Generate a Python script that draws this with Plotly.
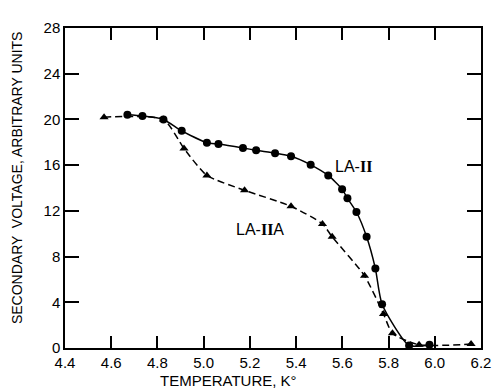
import plotly.graph_objects as go

# LA-II (circles, solid)
t_la2 = [4.67, 4.735, 4.826, 4.905, 5.014, 5.064, 5.17, 5.227, 5.309, 5.378, 5.463, 5.539, 5.599, 5.622, 5.661, 5.705, 5.743, 5.772, 5.889, 5.977]
v_la2 = [20.4, 20.3, 20.0, 19.0, 17.96, 17.84, 17.5, 17.3, 17.05, 16.77, 16.03, 15.1, 13.9, 13.1, 11.9, 9.73, 6.95, 3.83, 0.22, 0.28]

# LA-IIA (triangles, dashed)
t_la2a = [4.569, 4.826, 4.915, 5.014, 5.177, 5.378, 5.514, 5.556, 5.696, 5.778, 5.817, 5.932, 6.157]
v_la2a = [20.2, 20.0, 17.45, 15.1, 13.8, 12.4, 10.86, 9.73, 6.32, 2.98, 1.28, 0.28, 0.34]

x_ticks = [4.4, 4.6, 4.8, 5.0, 5.2, 5.4, 5.6, 5.8, 6.0, 6.2]
y_ticks = [0, 4, 8, 12, 16, 20, 24, 28]

font = "Liberation Sans, Arial, sans-serif"
roman = "<b><span style='font-family:Liberation Serif'>II</span></b>"

fig = go.Figure()
fig.add_trace(go.Scatter(x=t_la2a, y=v_la2a, mode="lines+markers",
                         line=dict(color="black", width=1.5, dash="7px,4px", shape="spline", smoothing=0.6),
                         marker=dict(symbol="triangle-up", size=8, color="black", angleref="up"),
                         showlegend=False))
fig.add_trace(go.Scatter(x=t_la2, y=v_la2, mode="lines+markers",
                         line=dict(color="black", width=1.5, shape="spline", smoothing=0.6),
                         marker=dict(symbol="circle", size=8, color="black"),
                         showlegend=False))

fig.add_annotation(x=5.65, y=15.9, text="LA-" + roman, showarrow=False, xanchor="center",
                   font=dict(family=font, size=16, color="black"))
fig.add_annotation(x=5.245, y=10.35, text="LA-" + roman + "A", showarrow=False, xanchor="center",
                   font=dict(family=font, size=16, color="black"))

fig.add_annotation(xref="paper", yref="paper", x=0.394, y=-0.103, text="TEMPERATURE, K°",
                   showarrow=False, xanchor="center", yanchor="middle",
                   font=dict(family=font, size=15, color="black"))
fig.add_annotation(xref="paper", yref="paper", x=-0.117, y=0.532,
                   text="SECONDARY  VOLTAGE, ARBITRARY UNITS", textangle=-90,
                   showarrow=False, xanchor="center", yanchor="middle",
                   font=dict(family=font, size=14, color="black"))

fig.update_layout(
    width=494, height=384,
    margin=dict(l=57, r=11, t=11, b=44),
    paper_bgcolor="white", plot_bgcolor="white",
    font=dict(family=font, size=15, color="black"),
    xaxis=dict(range=[4.4, 6.2], tickvals=x_ticks, ticktext=[f"{v:.1f}" for v in x_ticks],
               ticks="inside", ticklen=12, tickwidth=1.5, tickcolor="black",
               showline=True, linecolor="black", linewidth=1.5, mirror="ticks",
               showgrid=False, zeroline=False),
    yaxis=dict(range=[0, 28], tickvals=y_ticks,
               ticks="inside", ticklen=14, tickwidth=1.5, tickcolor="black",
               showline=True, linecolor="black", linewidth=1.5, mirror="ticks",
               showgrid=False, zeroline=False),
)

fig.write_html("out.html")
